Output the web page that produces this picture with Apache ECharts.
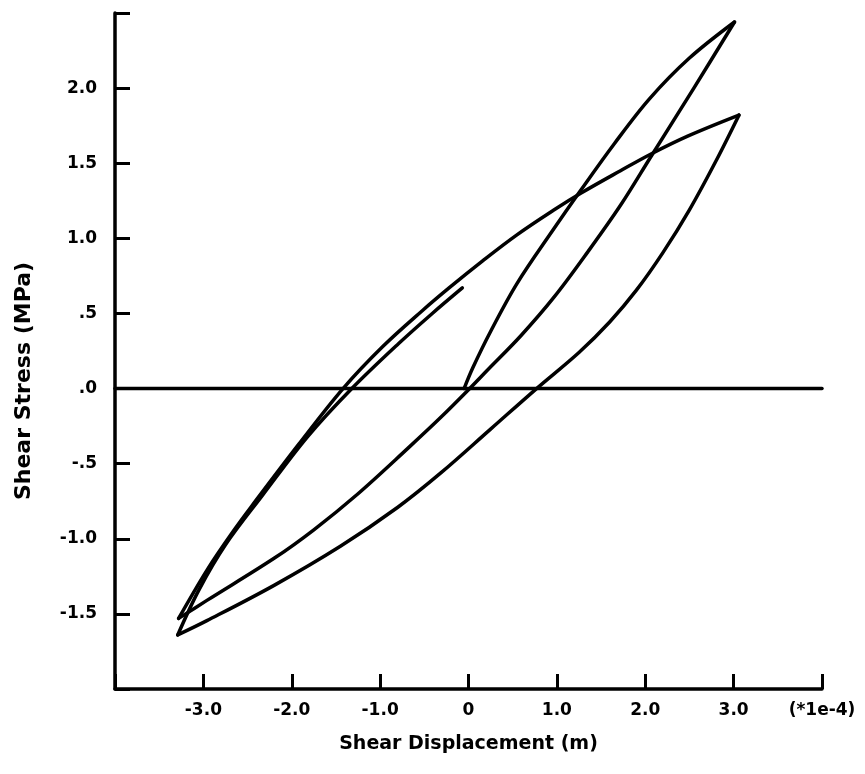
<!DOCTYPE html>
<html>
<head>
<meta charset="utf-8">
<script src="https://cdn.jsdelivr.net/npm/echarts@6/dist/echarts.min.js"></script>
<style>
html,body{margin:0;padding:0;background:#fff;}
#chart{width:865px;height:774px;}
</style>
</head>
<body>
<div id="chart"></div>
<script>
// Shear displacement (x, in 1e-4 m) vs shear stress (MPa)
const loading1 = [[-0.05,0],[0.05,0.14],[0.25,0.38],[0.55,0.70],[0.95,1.05],[1.27,1.32],[1.65,1.63],[2.05,1.93],[2.50,2.20],[3.01,2.44]];
const unloading1 = [[3.01,2.44],[2.55,2.00],[2.06,1.54],[1.72,1.22],[1.35,0.91],[0.97,0.61],[0.59,0.35],[0.21,0.12],[0.03,0.01],[-0.31,-0.19],[-0.69,-0.40],[-1.25,-0.70],[-1.75,-0.94],[-2.20,-1.13],[-2.96,-1.41],[-3.28,-1.53]];
const reloading1 = [[-3.28,-1.53],[-2.95,-1.20],[-2.65,-0.94],[-2.45,-0.78],[-1.92,-0.37],[-1.42,0.0],[-0.97,0.28],[-0.52,0.52],[-0.22,0.67],[0.16,0.85],[0.54,1.02],[0.97,1.19],[1.27,1.30],[1.72,1.45],[2.06,1.56],[2.48,1.68],[3.06,1.82]];
const unloading2 = [[3.06,1.82],[2.80,1.515],[2.50,1.19],[2.20,0.905],[1.90,0.655],[1.60,0.445],[1.25,0.24],[0.77,0],[0.25,-0.27],[-0.31,-0.56],[-0.80,-0.79],[-1.45,-1.05],[-2.20,-1.31],[-2.96,-1.545],[-3.29,-1.64]];
const reloading2 = [[-3.29,-1.64],[-3.05,-1.34],[-2.75,-1.04],[-2.33,-0.71],[-1.82,-0.32],[-1.32,0.0],[-0.79,0.30],[-0.41,0.50],[-0.07,0.67]];
const zeroLine = [[-4,0],[4,0]];

const xTickValues = [-3,-2,-1,0,1,2,3,4];
const xTickLabels = ['-3.0','-2.0','-1.0','0','1.0','2.0','3.0','(*1e-4)'];
const yTickValues = [-1.5,-1,-0.5,0,0.5,1,1.5,2];
const yTickLabels = ['-1.5','-1.0','-.5','.0','.5','1.0','1.5','2.0'];

function lookup(vals, labels, v){
  for (let i=0;i<vals.length;i++){ if (Math.abs(vals[i]-v)<1e-6) return labels[i]; }
  return '';
}

const FONT = '"DejaVu Sans", Arial, Helvetica, sans-serif';
const chart = echarts.init(document.getElementById('chart'), null, {renderer:'canvas'});

function lineSeries(data){
  return {type:'line', data:data, showSymbol:false, smooth:0.35, clip:false,
    lineStyle:{color:'#000', width:3.5, cap:'round', join:'round'}, silent:true};
}

chart.setOption({
  animation:false,
  backgroundColor:'#fff',
  grid:{left:115, right:43, top:13, bottom:85, containLabel:false},
  xAxis:{
    type:'value', min:-4, max:4, interval:1,
    axisLine:{show:true, onZero:false, lineStyle:{color:'#000', width:3.5}},
    axisTick:{show:true, inside:true, length:15, lineStyle:{color:'#000', width:3}},
    splitLine:{show:false},
    axisLabel:{margin:13, color:'#000', fontFamily:FONT, fontWeight:'bold', fontSize:17,
      formatter:v=>lookup(xTickValues,xTickLabels,v)},
    name:'Shear Displacement (m)', nameLocation:'middle', nameGap:46,
    nameTextStyle:{color:'#000', fontFamily:FONT, fontWeight:'bold', fontSize:19}
  },
  yAxis:{
    type:'value', min:-2, max:2.5, interval:0.5,
    axisLine:{show:true, onZero:false, lineStyle:{color:'#000', width:3.5}},
    axisTick:{show:true, inside:true, length:15, lineStyle:{color:'#000', width:3}},
    splitLine:{show:false},
    axisLabel:{margin:18, color:'#000', fontFamily:FONT, fontWeight:'bold', fontSize:17,
      formatter:v=>lookup(yTickValues,yTickLabels,v)}
  },
  graphic:[{
    type:'text', x:24, y:381, rotation:Math.PI/2,
    style:{text:'Shear Stress (MPa)', fill:'#000', font:'bold 22px '+FONT, textAlign:'center', textVerticalAlign:'middle'}
  }],
  series:[
    lineSeries(zeroLine),
    lineSeries(loading1),
    lineSeries(unloading1),
    lineSeries(reloading1),
    lineSeries(unloading2),
    lineSeries(reloading2)
  ]
});
</script>
</body>
</html>
